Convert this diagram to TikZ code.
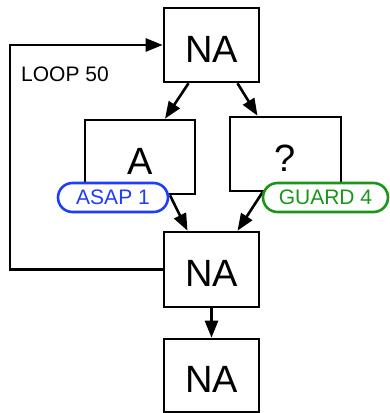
\documentclass[tikz,border=0pt]{standalone}
\usepackage{fontspec}
\setmainfont{Liberation Sans}
\usetikzlibrary{arrows.meta,calc}
\definecolor{asapblue}{RGB}{30,60,250}
\definecolor{guardgreen}{RGB}{25,150,25}
\begin{document}
\begin{tikzpicture}[x=1pt,y=-1pt,
  box/.style={draw,line width=2.6pt,inner sep=0pt,text height=34pt,text depth=0pt,
    font=\fontsize{38}{40}\selectfont},
  pill/.style={draw,line width=2.6pt,fill=white,rounded corners=14.5pt,inner sep=0pt,
    minimum height=29pt,font=\fontsize{21}{22}\selectfont},
  flow/.style={line width=2.6pt,-{Triangle[length=17pt,width=13pt]}}]
\useasboundingbox (0,0) rectangle (389,413);

% blocks
\node[box,minimum width=95pt,minimum height=74pt] (top) at (211.5,45) {NA};
\node[box,minimum width=110pt,minimum height=74pt] (A) at (140,157) {A};
\node[box,minimum width=111pt,minimum height=74pt] (Q) at (285.5,154) {?};
\node[box,minimum width=95pt,minimum height=75pt] (mid) at (211.5,269.5) {NA};
\node[box,minimum width=95pt,minimum height=73pt] (bot) at (211.5,375.5) {NA};

% connectors
\draw[flow] ([xshift=-23pt]top.south) -- ([xshift=25pt]A.north);
\draw[flow] ([xshift=26pt]top.south) -- ([xshift=-28pt]Q.north);
\draw[flow] ([xshift=30pt]A.south) -- ([xshift=-24pt]mid.north);
\draw[flow] ([xshift=-23pt]Q.south) -- ([xshift=26pt]mid.north);
\draw[flow] (mid.south) -- (bot.north);

% loop back edge
\coordinate (loopx) at (10,0);
\draw[flow] (mid.west) -- (mid.west -| loopx) -- (top.west -| loopx) -- (top.west);
\node[anchor=west,inner sep=0pt,font=\fontsize{21}{22}\selectfont] (looplabel) at (21,74) {LOOP 50};

% annotations
\node[pill,draw=asapblue,text=asapblue,minimum width=110pt] (asap) at (113,197.5) {ASAP 1};
\node[pill,draw=guardgreen,text=guardgreen,minimum width=125pt] (guard) at (325.5,197.5) {GUARD 4};
\end{tikzpicture}
\end{document}
